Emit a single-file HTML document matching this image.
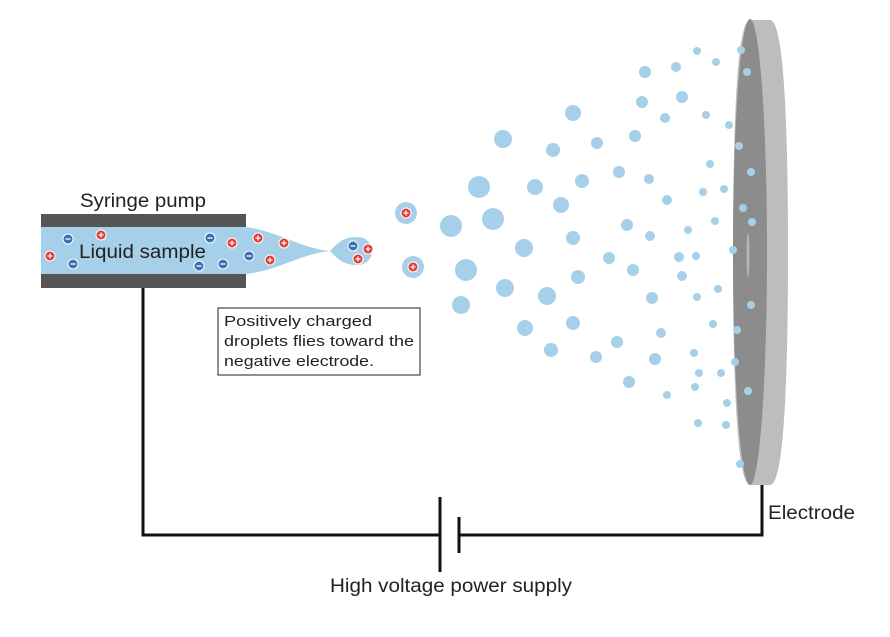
<!DOCTYPE html>
<html><head><meta charset="utf-8"><style>
body{margin:0;background:#fff;width:890px;height:632px;overflow:hidden}
text{font-family:"Liberation Sans",sans-serif;fill:#222}
</style></head><body>
<svg width="890" height="632">
<g id="drops"></g>
<g>
<path d="M750,20 L770,20 Q788,20 788,252 Q788,485 770,485 L750,485 Q733,485 733,252 Q733,20 750,20 Z" fill="#bdbdbd"/>
<ellipse cx="750" cy="252" rx="17" ry="233" fill="#8c8c8c"/>
<ellipse cx="748" cy="255" rx="1.5" ry="22" fill="#b5b5b5"/>
</g>
<g id="drops2"></g>
<g>
<path d="M246,227 C280,232 300,248 330,251 C300,254 280,270 246,274 Z" fill="#a6d0ea"/>
<rect x="41" y="227" width="205" height="47" fill="#a6d0ea"/>
<rect x="41" y="214" width="205" height="13" fill="#555"/>
<rect x="41" y="274" width="205" height="14" fill="#555"/>
<path d="M330,251 C340,240 346,237 358,237 A14,14 0 1 1 358,265 C346,265 340,262 330,251 Z" fill="#a6d0ea"/>
<circle cx="406" cy="213" r="11" fill="#a6d0ea"/>
<circle cx="413" cy="267" r="11" fill="#a6d0ea"/>
</g>
<g id="ions"></g>
<text x="80" y="207" font-size="19" textLength="126" lengthAdjust="spacingAndGlyphs">Syringe pump</text>
<text x="79" y="258" font-size="19" textLength="127" lengthAdjust="spacingAndGlyphs">Liquid sample</text>
<g stroke="#111" stroke-width="3" fill="none">
<polyline points="143,288 143,535 440,535"/>
<polyline points="459,535 762,535 762,485"/>
<line x1="440" y1="497" x2="440" y2="572"/>
<line x1="459" y1="517" x2="459" y2="553"/>
</g>
<g>
<rect x="218" y="308" width="202" height="67" fill="#fff" stroke="#222" stroke-width="1"/>
<text x="224" y="326" font-size="15" textLength="148" lengthAdjust="spacingAndGlyphs">Positively charged</text>
<text x="224" y="346" font-size="15" textLength="190" lengthAdjust="spacingAndGlyphs">droplets flies toward the</text>
<text x="224" y="366" font-size="15" textLength="150" lengthAdjust="spacingAndGlyphs">negative electrode.</text>
</g>
<text x="330" y="592" font-size="19" textLength="242" lengthAdjust="spacingAndGlyphs">High voltage power supply</text>
<text x="768" y="519" font-size="19" textLength="87" lengthAdjust="spacingAndGlyphs">Electrode</text>
</svg>
<script>
const drops=[[503,139,9],[573,113,8],[479,187,11],[451,226,11],[493,219,11],[535,187,8],[561,205,8],[524,248,9],[466,270,11],[505,288,9],[547,296,9],[461,305,9],[525,328,8],[551,350,7],[573,238,7],[578,277,7],[573,323,7],[553,150,7],[597,143,6],[582,181,7],[635,136,6],[619,172,6],[645,72,6],[642,102,6],[682,97,6],[665,118,5],[676,67,5],[697,51,4],[716,62,4],[706,115,4],[710,164,4],[703,192,4],[688,230,4],[715,221,4],[649,179,5],[667,200,5],[627,225,6],[650,236,5],[609,258,6],[633,270,6],[679,257,5],[696,256,4],[682,276,5],[718,289,4],[697,297,4],[652,298,6],[661,333,5],[713,324,4],[617,342,6],[596,357,6],[655,359,6],[694,353,4],[721,373,4],[699,373,4],[629,382,6],[667,395,4],[695,387,4],[727,403,4],[698,423,4],[726,425,4]];
const onEl=[[741,50,4],[747,72,4],[729,125,4],[739,146,4],[751,172,4],[724,189,4],[743,208,4],[752,222,4],[733,250,4],[751,305,4],[737,330,4],[735,362,4],[748,391,4],[740,464,4]];
const ions=[[50,256,'+'],[101,235,'+'],[68,239,'-'],[73,264,'-'],[210,238,'-'],[232,243,'+'],[258,238,'+'],[284,243,'+'],[249,256,'-'],[223,264,'-'],[199,266,'-'],[270,260,'+'],[353,246,'-'],[368,249,'+'],[358,259,'+'],[406,213,'+'],[413,267,'+']];
const NS='http://www.w3.org/2000/svg';
function add(g,d){for(const [x,y,r] of d){const c=document.createElementNS(NS,'circle');c.setAttribute('cx',x);c.setAttribute('cy',y);c.setAttribute('r',r);c.setAttribute('fill','#a6d0ea');


g.appendChild(c);}}
add(document.getElementById('drops'),drops);
add(document.getElementById('drops2'),onEl);
const ig=document.getElementById('ions');
for(const [x,y,s] of ions){const c=document.createElementNS(NS,'circle');c.setAttribute('cx',x);c.setAttribute('cy',y);c.setAttribute('r',5);c.setAttribute('fill',s=='+'?'#e53935':'#3a6fb5');c.setAttribute('stroke','#fff');c.setAttribute('stroke-width','1');


ig.appendChild(c);
const p=document.createElementNS(NS,'path');p.setAttribute('d',s=='+'?`M${x-2.5},${y}h5M${x},${y-2.5}v5`:`M${x-2.5},${y}h5`);p.setAttribute('stroke','#fff');p.setAttribute('stroke-width','1.3');ig.appendChild(p);}
</script>
</body></html>
